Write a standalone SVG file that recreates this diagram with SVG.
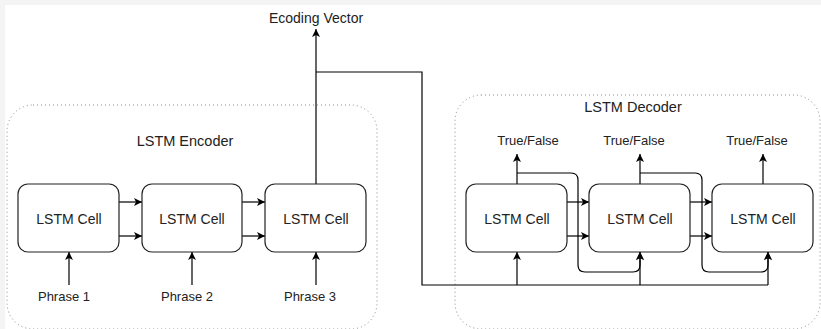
<svg xmlns="http://www.w3.org/2000/svg" width="821" height="329" viewBox="0 0 821 329">
<defs>
<marker id="ah" viewBox="0 0 10 10" refX="10" refY="5" markerWidth="8" markerHeight="8" markerUnits="userSpaceOnUse" orient="auto">
<path d="M0,0 L10,5 L0,10 L2.5,5 Z" fill="#000"/>
</marker>
<style>
.bg{fill:#ffffff}
.band{fill:#f4f4f4}
.cont{fill:none;stroke:#8a8a8a;stroke-width:1;stroke-dasharray:1 3}
.cell{fill:#ffffff;stroke:#222;stroke-width:1.2}
.t{font-family:"Liberation Sans",Arial,sans-serif;fill:#222;text-anchor:middle;dominant-baseline:central}
.cl{font-size:14px}
.tt{font-size:14.5px}
.sm{font-size:13px}
.ln{fill:none;stroke:#000;stroke-width:1.2}
.ar{fill:none;stroke:#000;stroke-width:1.2;marker-end:url(#ah)}
</style>
</defs>
<rect class="bg" x="0" y="0" width="821" height="329"/>
<rect class="band" x="0" y="0" width="821" height="5"/>
<rect class="band" x="0" y="0" width="5" height="329"/>

<g id="encoder">
<rect class="cont" x="7" y="105" width="370" height="224" rx="26" ry="26"/>
<text class="t tt" x="185" y="141">LSTM Encoder</text>
</g>
<g id="decoder">
<rect class="cont" x="455" y="95" width="365" height="234" rx="26" ry="26"/>
<text class="t tt" x="633" y="107">LSTM Decoder</text>
</g>

<g id="connectors">
<line class="ar" x1="119" y1="202" x2="142" y2="202"/>
<line class="ar" x1="119" y1="236" x2="142" y2="236"/>
<line class="ar" x1="242" y1="202" x2="265" y2="202"/>
<line class="ar" x1="242" y1="236" x2="265" y2="236"/>
<line class="ar" x1="69" y1="285" x2="69" y2="252"/>
<line class="ar" x1="192" y1="285" x2="192" y2="252"/>
<line class="ar" x1="316" y1="285" x2="316" y2="252"/>
<line class="ar" x1="316" y1="184" x2="316" y2="29"/>
<path class="ln" d="M316,72 H422 V285 H768"/>
<line class="ar" x1="517" y1="285" x2="517" y2="252"/>
<line class="ar" x1="640" y1="285" x2="640" y2="252"/>
<line class="ar" x1="768" y1="285" x2="768" y2="252"/>
<line class="ar" x1="517" y1="184" x2="517" y2="154"/>
<line class="ar" x1="640" y1="184" x2="640" y2="154"/>
<line class="ar" x1="763" y1="184" x2="763" y2="154"/>
<line class="ar" x1="567" y1="202" x2="589" y2="202"/>
<line class="ar" x1="567" y1="236" x2="589" y2="236"/>
<line class="ar" x1="690" y1="202" x2="712" y2="202"/>
<line class="ar" x1="690" y1="236" x2="712" y2="236"/>
<path class="ar" d="M517,173 H571 Q578,173 578,180 V265 Q578,272 585,272 H633 Q640,272 640,265 V252"/>
<path class="ar" d="M640,173 H695 Q702,173 702,180 V265 Q702,272 709,272 H761 Q768,272 768,265 V252"/>
</g>

<g id="enc-cell-1"><rect class="cell" x="18" y="184" width="101" height="68" rx="10"/><text class="t cl" x="69" y="219">LSTM Cell</text></g>
<g id="enc-cell-2"><rect class="cell" x="142" y="184" width="100" height="68" rx="10"/><text class="t cl" x="192" y="219">LSTM Cell</text></g>
<g id="enc-cell-3"><rect class="cell" x="265" y="184" width="101" height="68" rx="10"/><text class="t cl" x="316" y="219">LSTM Cell</text></g>
<g id="dec-cell-1"><rect class="cell" x="466" y="184" width="101" height="68" rx="10"/><text class="t cl" x="517" y="219">LSTM Cell</text></g>
<g id="dec-cell-2"><rect class="cell" x="589" y="184" width="101" height="68" rx="10"/><text class="t cl" x="640" y="219">LSTM Cell</text></g>
<g id="dec-cell-3"><rect class="cell" x="712" y="184" width="101" height="68" rx="10"/><text class="t cl" x="763" y="219">LSTM Cell</text></g>

<g id="labels">
<text class="t sm" x="64" y="296">Phrase 1</text>
<text class="t sm" x="187" y="296">Phrase 2</text>
<text class="t sm" x="310" y="296">Phrase 3</text>
<text class="t cl" x="316" y="18">Ecoding Vector</text>
<text class="t sm" x="528" y="140">True/False</text>
<text class="t sm" x="634" y="140">True/False</text>
<text class="t sm" x="757" y="140">True/False</text>
</g>
</svg>
